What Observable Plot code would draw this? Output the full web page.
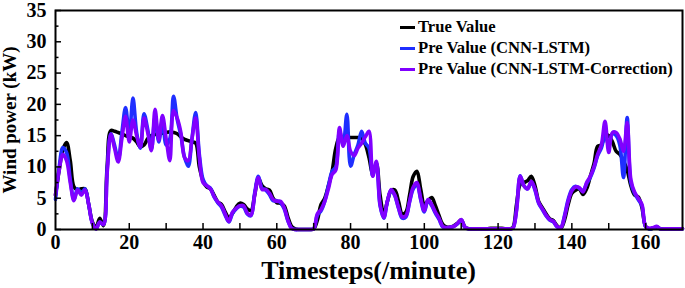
<!DOCTYPE html>
<html><head><meta charset="utf-8">
<script src="https://cdn.jsdelivr.net/npm/d3@7"></script>
<script src="https://cdn.jsdelivr.net/npm/@observablehq/plot@0.6"></script>
<style>
body{margin:0;background:#fff}
#wrap{position:relative;width:685px;height:288px;font-family:"Liberation Serif",serif;font-weight:bold;color:#000}
.ttl{position:absolute;white-space:nowrap}
.leg{position:absolute;left:400px;font-size:16.6px;line-height:17px;white-space:nowrap}
.sw{display:inline-block;width:15px;height:3px;vertical-align:middle;margin-right:3px;position:relative;top:-1px}
</style>
</head><body><div id="wrap"></div>
<script>
const trueValue = [
5.5,9.5,12.8,13.9,11.0,6.8,6.3,6.5,6.5,4.0,
1.2,0.3,1.8,0.6,10.0,15.8,15.7,15.5,15.3,15.0,
14.8,14.6,14.0,13.2,13.5,14.5,15.0,15.2,15.3,15.4,
15.5,15.6,15.5,15.3,14.8,14.4,14.2,14.0,13.8,10.0,
7.8,6.8,6.5,5.5,4.4,4.0,2.8,1.9,2.6,3.6,
4.2,4.0,3.3,3.0,5.5,8.2,7.0,6.5,6.3,5.0,
4.3,4.2,3.8,2.0,0.5,0.1,0,0,0,0,
0.1,1.5,4.0,5.0,7.0,9.3,13.0,14.7,14.7,14.7,
14.7,14.7,14.7,14.6,13.6,11.5,9.0,10.5,5.5,2.5,
4.5,6.2,6.3,4.5,2.5,2.8,5.5,8.5,9.3,6.5,
4.0,4.6,5.1,3.8,2.2,0.8,0.4,0.4,0.6,1.0,
1.5,0.4,0.1,0.1,0.1,0.1,0.1,0.1,0.2,0.2,
0.2,0.2,0.1,0.1,0.3,4.0,7.2,7.5,7.8,8.5,
7.0,4.5,3.5,2.5,1.7,1.4,0.6,0.2,1.5,4.0,
5.8,6.3,6.5,5.6,6.5,8.5,10.5,13.3,13.5,15.2,
15.0,14.0,12.5,12.0,11.0,9.5,7.0,5.5,5.2,3.5,
0.5,0.1,0.2,0.4,0.1,0.1,0.1,0.1,0.1,0.1,0.1
];
const cnnLstm = [
4.8,10.0,13.1,12.3,8.0,4.8,6.5,5.8,6.5,4.0,
1.0,0.1,1.2,0.8,9.5,15.3,13.5,11.2,15.5,19.5,
15.0,21.0,15.5,13.0,18.5,16.0,12.8,18.0,14.0,17.5,
13.5,14.5,21.3,17.6,15.0,11.5,10.1,14.5,18.7,12.0,
8.0,7.0,6.6,5.2,4.3,3.6,2.3,1.2,2.6,3.3,
3.7,3.6,2.5,2.2,5.8,8.5,6.6,6.3,5.6,4.6,
4.6,4.3,3.3,1.4,0.2,0,0,0,0,0,
0.1,2.3,3.0,4.5,7.0,9.3,10.0,15.7,13.6,18.4,
10.1,12.0,13.5,15.7,13.8,13.0,8.6,10.5,3.8,1.8,
4.5,6.3,5.4,3.4,1.8,2.0,4.4,6.5,7.2,4.8,
2.8,4.7,3.8,2.6,1.6,0.4,0.2,0.3,0.5,0.9,
1.5,0.3,0.1,0.1,0.1,0.1,0.1,0.1,0.1,0.1,
0.1,0.1,0.1,0.1,0.2,3.2,8.6,7.0,6.5,7.6,
6.3,4.2,3.2,2.2,1.5,1.2,0.4,0.3,2.2,4.8,
6.4,6.9,6.6,6.2,7.3,8.3,9.8,11.8,13.0,15.0,
13.5,15.3,15.0,13.5,8.3,17.9,7.5,5.8,4.8,3.8,
0.4,0.1,0.2,0.4,0.1,0.1,0.1,0.1,0.1,0.1,0.1
];
const correction = [
5.5,9.5,12.0,11.0,7.5,4.6,6.3,5.5,6.3,4.0,
1.0,0.1,1.2,0.8,9.0,15.2,13.0,10.8,14.5,18.1,
14.0,17.5,15.0,13.2,17.8,15.5,12.6,19.2,14.3,18.2,
14.5,11.0,19.0,17.8,15.5,11.5,11.0,14.5,17.8,11.5,
7.5,7.0,6.5,5.3,4.4,3.8,2.5,1.3,2.8,3.4,
3.8,3.8,2.6,2.3,5.5,8.3,6.4,6.4,5.8,4.8,
4.5,4.5,3.5,1.5,0.2,0,0,0,0,0,
0.1,2.5,3.2,4.5,6.5,8.8,9.5,16.3,13.3,15.0,
12.5,11.8,13.0,13.8,14.8,15.7,8.5,10.9,4.0,1.9,
4.6,6.4,5.5,3.5,2.0,2.2,4.5,6.8,7.5,5.0,
3.0,4.8,4.0,2.8,1.8,0.5,0.3,0.4,0.5,1.0,
1.6,0.4,0.1,0.1,0.1,0.1,0.1,0.1,0.1,0.1,
0.1,0.1,0.1,0.1,0.2,3.0,8.5,7.0,6.5,7.7,
6.5,4.3,3.3,2.3,1.6,1.3,0.5,0.3,2.0,4.5,
6.2,6.8,6.7,6.0,7.5,8.5,10.0,12.0,13.5,17.3,
12.3,15.5,15.5,14.5,12.5,17.1,8.0,6.0,5.0,4.0,
0.5,0.2,0.3,0.5,0.1,0.1,0.1,0.1,0.1,0.1,0.1
];
const seriesNames = ["True Value","Pre Value (CNN-LSTM)","Pre Value (CNN-LSTM-Correction)"];
const seriesColors = ["#000000","#1f2fff","#8000ff"];
const xTickLabels = [0,20,40,60,80,100,120,140,160];
const xTicksAll = [10,20,30,40,50,60,70,80,90,100,110,120,130,140,150,160];
const yTickLabels = [0,5,10,15,20,25,30,35];
const yMinorTicks = [2.5,7.5,12.5,17.5,22.5,27.5,32.5];

const W=685,H=288,mL=55,mR=3,mT=10,mB=59;
const innerW=W-mL-mR, innerH=H-mT-mB;
const allSeries=[trueValue,cnnLstm,correction];
const rows=(arr,i)=>arr.map((v,t)=>({t,v,s:seriesNames[i]}));

const lineMarks = allSeries.map((arr,i)=>Plot.lineY(rows(arr,i),{x:"t",y:"v",stroke:seriesColors[i],strokeWidth:3.6,curve:"catmull-rom"}));

const chart = Plot.plot({
  width:W,height:H,marginLeft:mL,marginRight:mR,marginTop:mT,marginBottom:mB,
  x:{domain:[0,170]},
  y:{domain:[0,35]},
  style:{fontFamily:"Liberation Serif",fontWeight:"bold",background:"white",color:"#000"},
  marks:[
    ...lineMarks,
    Plot.tickX(xTicksAll,{x:d=>d,insetTop:innerH-6,stroke:"#000",strokeWidth:1.5}),
    Plot.tickY(yTickLabels,{y:d=>d,insetRight:innerW-6,stroke:"#000",strokeWidth:1.5}),
    Plot.tickY(yMinorTicks,{y:d=>d,insetRight:innerW-3.5,stroke:"#000",strokeWidth:1.5}),
    Plot.frame({stroke:"#000",strokeWidth:2}),
    Plot.axisX({ticks:xTickLabels,tickSize:0,tickPadding:5,fontSize:20,fontWeight:"bold",label:null,fill:"#000"}),
    Plot.axisY({ticks:yTickLabels,tickSize:0,tickPadding:9,fontSize:20,fontWeight:"bold",label:null,fill:"#000"})
  ]
});
const wrap=document.getElementById("wrap");
wrap.appendChild(chart);

const xl=document.createElement("div");
xl.className="ttl";xl.textContent="Timesteps(/minute)";
xl.style.cssText+="font-size:26px;left:"+(mL+innerW/2)+"px;top:256px;transform:translateX(-50%);";
wrap.appendChild(xl);
const yl=document.createElement("div");
yl.className="ttl";yl.textContent="Wind power (kW)";
yl.style.cssText+="font-size:19px;left:10px;top:"+(mT+innerH/2)+"px;transform:translate(-50%,-50%) rotate(-90deg);";
wrap.appendChild(yl);

const legTops=[18,39,60];
seriesNames.forEach((n,i)=>{
  const d=document.createElement("div");
  d.className="leg";d.style.top=legTops[i]+"px";
  const s=document.createElement("span");s.className="sw";s.style.background=seriesColors[i];
  d.appendChild(s);d.appendChild(document.createTextNode(n));
  wrap.appendChild(d);
});
</script>
</body></html>
